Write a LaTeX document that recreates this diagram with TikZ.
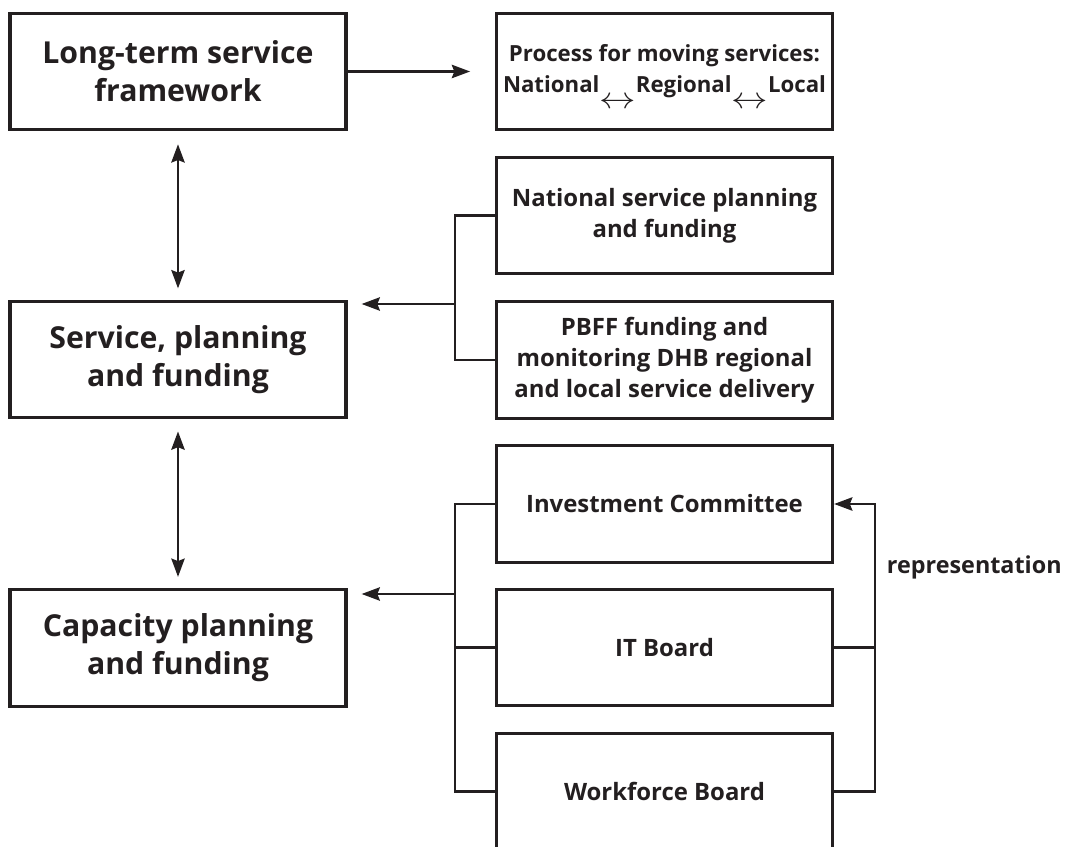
\documentclass[tikz,border=0pt]{standalone}
\usepackage{fontspec}
\setmainfont{Open Sans}
\usetikzlibrary{arrows.meta, positioning}
\definecolor{ink}{HTML}{231F20}
\newcommand{\movearrow}{\raisebox{-11pt}[0pt][0pt]{\scalebox{1.8}[1.5]{$\leftrightarrow$}}}

\begin{document}
\begin{tikzpicture}[x=0.025cm, y=-0.025cm,
  box/.style={draw=ink, line width=2.2pt, minimum width=8.4cm, minimum height=2.92cm, inner sep=0pt, align=center, text=ink, font=\bfseries\fontsize{17}{22}\selectfont},
  bigbox/.style={box, font=\bfseries\fontsize{21.5}{27}\selectfont},
  link/.style={draw=ink, line width=1.7pt},
  arr/.style={link, -{Stealth[length=13pt, width=9.5pt, inset=1.8pt]}},
  dblarr/.style={link, {Stealth[length=13pt, width=9.5pt, inset=1.8pt]}-{Stealth[length=13pt, width=9.5pt, inset=1.8pt]}}]

\useasboundingbox (0,0) rectangle (1074,847);

% Left column
\node[bigbox] (frame) at (178,71.5) {Long-term service\\framework};
\node[bigbox] (spf) at (178,359.5) {Service, planning\\and funding};
\node[bigbox] (cap) at (178,648) {Capacity planning\\and funding};

% Right column
\node[box, font=\bfseries\fontsize{15.8}{22}\selectfont] (move) at (664.5,71.5) {Process for moving services:\\National\movearrow Regional\movearrow Local};
\node[box] (natl) at (664.5,215.5) {National service planning\\and funding};
\node[box] (pbff) at (664.5,360) {PBFF funding and\\monitoring DHB regional\\and local service delivery};
\node[box] (invc) at (664.5,504) {Investment Committee};
\node[box] (itb) at (664.5,647.5) {IT Board};
\node[box] (wfb) at (664.5,791.5) {Workforce Board};

% Left column arrows
\draw[arr, shorten >=0.62cm] (frame.east) -- (move.west);
\draw[dblarr, shorten <=0.32cm, shorten >=0.28cm] (frame.south) -- (spf.north);
\draw[dblarr, shorten <=0.3cm, shorten >=0.28cm] (spf.south) -- (cap.north);

% Junctions
\coordinate (njoin) at (455,304);
\coordinate (cjoin) at (455,594);
\coordinate (rjoin) at (875,650);

% Service planning bracket
\draw[link] (natl.west) -- (natl.west -| njoin) -- (pbff.west -| njoin) -- (pbff.west);
\draw[arr, shorten >=0.35cm] (njoin) -- (njoin -| spf.east);

% Capacity bracket
\draw[link] (invc.west) -- (invc.west -| cjoin) -- (wfb.west -| cjoin) -- (wfb.west);
\draw[link] (itb.west) -- (itb.west -| cjoin);
\draw[arr, shorten >=0.35cm] (cjoin) -- (cjoin -| cap.east);

% Representation
\draw[arr] (wfb.east) -- (wfb.east -| rjoin) -- (invc.east -| rjoin) -- (invc.east);
\draw[link] (itb.east) -- (itb.east -| rjoin);
\node[anchor=west, text=ink, font=\bfseries\fontsize{16.6}{22}\selectfont] (rep) at (882,567) {representation};
\end{tikzpicture}
\end{document}
